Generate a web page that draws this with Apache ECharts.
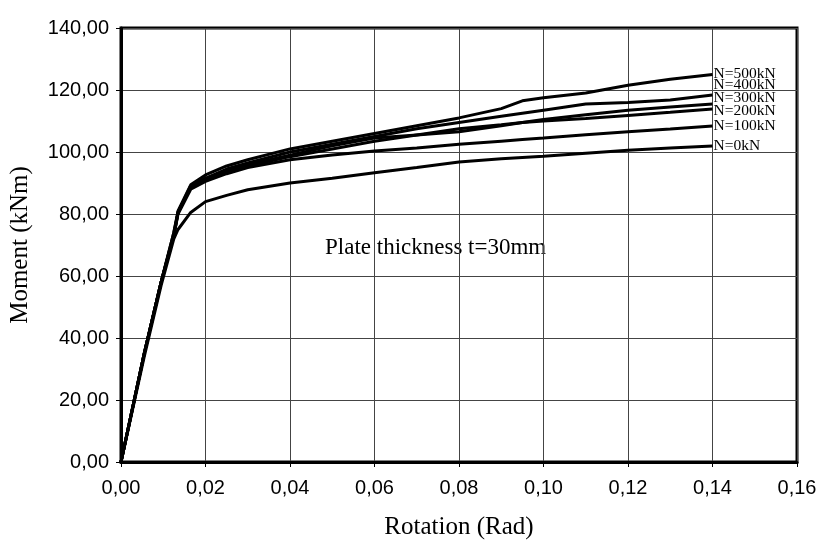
<!DOCTYPE html>
<html>
<head>
<meta charset="utf-8">
<script src="https://cdn.jsdelivr.net/npm/echarts@6/dist/echarts.min.js"></script>
<style>
  html, body { margin: 0; padding: 0; background: #fff; }
  #main { width: 818px; height: 540px; }
</style>
</head>
<body>
<div id="main"></div>
<script>
// rotation values (rad) shared by all curves
const rotation = [0, 0.0055, 0.0095, 0.0125, 0.0135, 0.0165, 0.02, 0.025, 0.03, 0.04, 0.05, 0.06, 0.07, 0.08, 0.09, 0.095, 0.1, 0.11, 0.12, 0.13, 0.14];
// moment (kNm) for each axial force
const mN0   = [0, 34, 57, 72, 75, 80.5, 84, 86, 87.8, 90, 91.5, 93.3, 95, 96.8, 97.8, 98.2, 98.6, 99.6, 100.6, 101.3, 101.9];
const mN100 = [0, 35, 58, 73, 80, 88, 90.5, 93, 95, 97.5, 99, 100.3, 101.3, 102.5, 103.5, 104, 104.5, 105.6, 106.5, 107.4, 108.4];
const mN200 = [0, 35, 58, 73, 80.5, 89, 91, 93.5, 95.5, 98.5, 101, 103.5, 105.5, 107.5, 108.8, 109.5, 110, 110.8, 111.8, 112.8, 113.9];
const mN300 = [0, 35, 58, 73, 80.5, 89, 91.5, 94, 96, 99, 102, 104.5, 105.5, 106.5, 108.5, 109.5, 110.5, 112, 113.5, 114.5, 115.5];
const mN400 = [0, 35, 58, 74, 80.5, 89, 91.5, 94.5, 96.5, 100, 102.5, 105, 107.5, 109.5, 111.5, 112.5, 113.5, 115.5, 116, 116.8, 118.4];
const mN500 = [0, 35, 58, 74, 81, 89.4, 92.6, 95.5, 97.5, 101, 103.5, 106, 108.5, 111, 114, 116.5, 117.5, 119, 121.5, 123.5, 125];
const seriesNames = ['N=500kN', 'N=400kN', 'N=300kN', 'N=200kN', 'N=100kN', 'N=0kN'];
const seriesData = [mN500, mN400, mN300, mN200, mN100, mN0];
// vertical shift of end labels
const labelShift = [-1, -10, -6, 2, 0, 0];

const xTicks = { min: 0, max: 0.16, step: 0.02 };
const yTicks = { min: 0, max: 140, step: 20 };

function comma(v) {
  return v.toFixed(2).replace('.', ',');
}

function buildSeries() {
  let list = [];
  for (let i = 0; i < seriesData.length; i++) {
    let pts = [];
    for (let j = 0; j < rotation.length; j++) {
      pts.push([rotation[j], seriesData[i][j]]);
    }
    list.push({
      name: seriesNames[i],
      type: 'line',
      data: pts,
      symbol: 'none',
      smooth: false,
      silent: true,
      lineStyle: { color: '#000', width: 3 },
      endLabel: {
        show: true,
        formatter: seriesNames[i],
        distance: 1,
        offset: [0, labelShift[i]],
        fontFamily: '"Liberation Serif", "Times New Roman", serif',
        fontSize: 15.5,
        color: '#000'
      }
    });
  }
  return list;
}

const chart = echarts.init(document.getElementById('main'), null, { renderer: 'canvas' });
chart.setOption({
  backgroundColor: '#fff',
  animation: false,
  grid: {
    left: 121, right: 21, top: 28, bottom: 78,
    outerBoundsMode: 'none',
    containLabel: false,
    show: true,
    borderColor: '#000',
    borderWidth: 3,
    backgroundColor: 'transparent'
  },
  xAxis: {
    type: 'value',
    min: xTicks.min,
    max: xTicks.max,
    interval: xTicks.step,
    name: 'Rotation (Rad)',
    nameLocation: 'middle',
    nameGap: 53,
    nameTextStyle: { fontFamily: '"Liberation Serif", serif', fontSize: 25, color: '#000' },
    axisLine: { show: true, lineStyle: { color: '#000', width: 3 } },
    axisTick: { show: true, length: 5, lineStyle: { color: '#000' } },
    axisLabel: {
      formatter: comma,
      margin: 16,
      fontFamily: '"Liberation Sans", Arial, sans-serif',
      fontSize: 20,
      color: '#000'
    },
    splitLine: { show: true, lineStyle: { color: '#444', width: 1 } }
  },
  yAxis: {
    type: 'value',
    min: yTicks.min,
    max: yTicks.max,
    interval: yTicks.step,
    name: 'Moment (kNm)',
    nameLocation: 'middle',
    nameGap: 88,
    nameTextStyle: { fontFamily: '"Liberation Serif", serif', fontSize: 25, color: '#000' },
    axisLine: { show: true, lineStyle: { color: '#000', width: 3 } },
    axisTick: { show: true, length: 5, lineStyle: { color: '#000' } },
    axisLabel: {
      formatter: comma,
      margin: 12,
      fontFamily: '"Liberation Sans", Arial, sans-serif',
      fontSize: 20,
      color: '#000'
    },
    splitLine: { show: true, lineStyle: { color: '#444', width: 1 } }
  },
  graphic: [{
    type: 'text',
    left: 325,
    top: 236,
    style: {
      text: 'Plate thickness t=30mm',
      font: '23px "Liberation Serif", serif',
      fill: '#000'
    }
  }],
  series: buildSeries()
});
</script>
</body>
</html>
